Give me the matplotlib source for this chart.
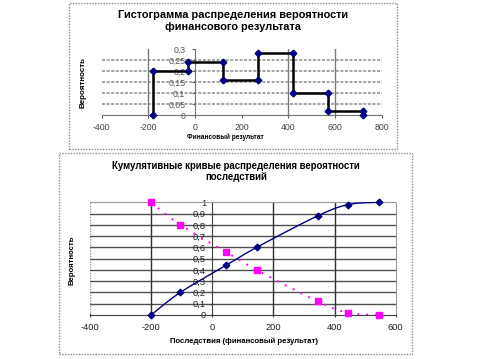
import numpy as np
import matplotlib
matplotlib.use('Agg')
import matplotlib.pyplot as plt
from matplotlib.patches import Rectangle

plt.rcParams['font.family'] = ['Liberation Sans', 'DejaVu Sans']

# ---- data ----
hist_edges = [-180, -30, 120, 270, 420, 570, 720]
hist_prob = [0.20, 0.24, 0.16, 0.28, 0.10, 0.02]

cum_x = [-200, -105, 45, 145, 345, 445, 545]
cum_up = [0.0, 0.20, 0.44, 0.60, 0.88, 0.98, 1.0]
cum_down = [1.0, 0.80, 0.56, 0.40, 0.12, 0.02, 0.0]

top_xticks = [-400, -200, 0, 200, 400, 600, 800]
top_yticks = [0, 0.05, 0.1, 0.15, 0.2, 0.25, 0.3]
bot_xticks = [-400, -200, 0, 200, 400, 600]
bot_yticks = [0, 0.1, 0.2, 0.3, 0.4, 0.5, 0.6, 0.7, 0.8, 0.9, 1.0]


def fmt(v):
    s = ('%g' % v).replace('.', ',')
    return s


def smooth(x, y, n=24):
    pts = np.column_stack([x, y]).astype(float)
    out = [pts[0]]
    t = np.linspace(0, 1, n)[1:, None]
    for i in range(len(pts) - 1):
        p0 = pts[i - 1] if i > 0 else pts[i]
        p1 = pts[i]
        p2 = pts[i + 1]
        p3 = pts[i + 2] if i + 2 < len(pts) else pts[i + 1]
        c1 = p1 + (p2 - p0) / 6
        c2 = p2 - (p3 - p1) / 6
        seg = (1 - t) ** 3 * p1 + 3 * (1 - t) ** 2 * t * c1 + 3 * (1 - t) * t ** 2 * c2 + t ** 3 * p2
        out.extend(seg)
    return np.array(out)


W, H = 481, 359
fig = plt.figure(figsize=(W / 100, H / 100), dpi=100)
fig.patch.set_facecolor('white')


def px_rect(x0, y0, x1, y1):
    return [x0 / W, (H - y1) / H, (x1 - x0) / W, (y1 - y0) / H]


# frames
for (x0, y0, x1, y1) in [(69, 3, 397, 149), (59, 153, 412, 354)]:
    r = px_rect(x0, y0, x1, y1)
    fig.patches.append(Rectangle((r[0], r[1]), r[2], r[3], transform=fig.transFigure,
                                 fill=False, edgecolor='#8a8a8a', lw=1.0,
                                 linestyle=(0, (1, 1))))

TICK = 6.3
# ---------------- top chart ----------------
ax1 = fig.add_axes(px_rect(101.7, 49, 381.7, 115))
ax1.set_xlim(-400, 800)
ax1.set_ylim(0, 0.3)
for s in ['top', 'right']:
    ax1.spines[s].set_visible(False)
ax1.spines['left'].set_position(('data', 0))
ax1.spines['left'].set_color('#707070')
ax1.spines['bottom'].set_color('#707070')
ax1.set_xticks(top_xticks)
ax1.set_xticklabels([fmt(v) for v in top_xticks])
ax1.set_yticks(top_yticks)
ax1.set_yticklabels([fmt(v) for v in top_yticks])
ax1.tick_params(axis='both', labelsize=TICK, colors='#606060', length=2, width=0.8)
ax1.tick_params(axis='x', pad=3.5, labelcolor='#444444')
ax1.tick_params(axis='y', pad=5, labelcolor='#555555')
for v in top_yticks[1:-1]:
    ax1.axhline(v, color='#8c8c8c', lw=1.1, ls=(0, (2, 1)), zorder=1)
for v in top_xticks:
    if v not in (-400, 0, 200, 800):
        ax1.axvline(v, color='#7a7a7a', lw=1.0, zorder=1)

sx, sy = [hist_edges[0]], [0.0]
for i, p in enumerate(hist_prob):
    sx += [hist_edges[i], hist_edges[i + 1]]
    sy += [p, p]
sx.append(hist_edges[-1])
sy.append(0.0)
ax1.plot(sx, sy, color='black', lw=1.8, zorder=3, clip_on=False)
ax1.plot(sx, sy, ls='none', marker='D', ms=3.4, color='#000080', zorder=4, clip_on=False)

fig.text(233 / W, 1 - 15.5 / H, 'Гистограмма распределения вероятности', ha='center', va='center',
         fontsize=7.9, fontweight='bold')
fig.text(233 / W, 1 - 27.5 / H, 'финансового результата', ha='center', va='center',
         fontsize=7.9, fontweight='bold')
fig.text(225 / W, 1 - 137 / H, 'Финансовый результат', ha='center', va='center',
         fontsize=4.7, fontweight='bold')
fig.text(83 / W, 1 - 82 / H, 'Вероятность', ha='center', va='center', rotation=90,
         fontsize=5.8, fontweight='bold')

# ---------------- bottom chart ----------------
ax2 = fig.add_axes(px_rect(90, 202.3, 395.7, 315))
ax2.set_xlim(-400, 600)
ax2.set_ylim(0, 1)
for s in ['top', 'right']:
    ax2.spines[s].set_color('#9a9a9a')
    ax2.spines[s].set_linestyle((0, (1, 1)))
ax2.spines['left'].set_position(('data', 0))
ax2.spines['left'].set_color('#404040')
ax2.spines['bottom'].set_color('#404040')
ax2.set_xticks(bot_xticks)
ax2.set_xticklabels([fmt(v) for v in bot_xticks])
ax2.set_yticks(bot_yticks)
ax2.set_yticklabels([fmt(v) for v in bot_yticks])
ax2.tick_params(axis='both', labelsize=TICK + 0.4, colors='#404040', labelcolor='#202020',
                length=3, width=0.8, direction='inout')
ax2.tick_params(axis='x', pad=4)
ax2.tick_params(axis='y', pad=3)
# left border at -400 dotted
ax2.axvline(-400, color='#9a9a9a', lw=1.0, ls=(0, (1, 1)), zorder=1)
for v in bot_yticks[1:-1]:
    ax2.axhline(v, color='#505050', lw=1.0, zorder=1)
for v in bot_xticks:
    if v not in (-400, 0, 600):
        ax2.axvline(v, color='#303030', lw=1.0, zorder=1)

up = smooth(cum_x, cum_up)
dn = smooth(cum_x, cum_down)
ax2.plot(dn[:, 0], dn[:, 1], color='#ff00ff', lw=1.4, ls=(0, (1, 3.5)), zorder=3)
ax2.plot(cum_x, cum_down, ls='none', marker='s', ms=4.6, color='#ff00ff', zorder=4, clip_on=False)
ax2.plot(up[:, 0], up[:, 1], color='#000080', lw=1.0, zorder=3)
ax2.plot(cum_x, cum_up, ls='none', marker='D', ms=3.4, color='#000080', zorder=5, clip_on=False)

fig.text(236 / W, 1 - 166 / H, 'Кумулятивные кривые распределения вероятности', ha='center',
         va='center', fontsize=6.9, fontweight='bold')
fig.text(236 / W, 1 - 177.5 / H, 'последствий', ha='center', va='center',
         fontsize=6.9, fontweight='bold')
fig.text(244 / W, 1 - 341.7 / H, 'Последствия (финансовый результат)', ha='center', va='center',
         fontsize=5.6, fontweight='bold')
fig.text(72 / W, 1 - 260 / H, 'Вероятность', ha='center', va='center', rotation=90,
         fontsize=5.6, fontweight='bold')

fig.savefig('out.png', dpi=100, facecolor='white')
